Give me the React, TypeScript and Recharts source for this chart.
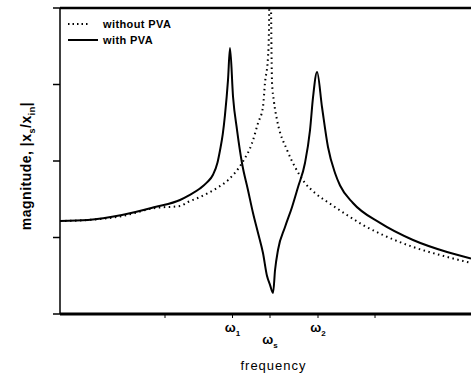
import React from "react";
import { LineChart, Line, XAxis, YAxis, ReferenceLine, Legend } from "recharts";

// frequency (arbitrary units) and |x_s/x_in|
const freqWithout = [0, 0.267, 0.59, 0.905, 1.143, 1.219, 1.333, 1.495, 1.6, 1.733, 1.829, 1.886, 1.933, 1.952, 1.981, 1.99, 2.0, 2.019, 2.038, 2.067, 2.162, 2.238, 2.333, 2.429, 2.59, 2.733, 2.886, 3.076, 3.362, 3.619, 3.876, 3.914];
const magWithout = [1.216, 1.229, 1.28, 1.386, 1.412, 1.464, 1.529, 1.647, 1.75, 1.974, 2.235, 2.497, 2.706, 3.02, 3.36, 3.71, 5.0, 3.03, 2.77, 2.536, 2.144, 1.922, 1.712, 1.582, 1.425, 1.294, 1.163, 1.033, 0.876, 0.771, 0.68, 0.667];

const freqWith = [0, 0.267, 0.59, 0.905, 1.143, 1.219, 1.333, 1.4, 1.457, 1.5, 1.524, 1.55, 1.571, 1.6, 1.619, 1.648, 1.686, 1.733, 1.79, 1.838, 1.886, 1.933, 1.971, 2.0, 2.029, 2.048, 2.076, 2.143, 2.21, 2.267, 2.333, 2.381, 2.41, 2.448, 2.495, 2.552, 2.619, 2.667, 2.79, 3.048, 3.362, 3.686, 3.914];
const magWith = [1.216, 1.229, 1.294, 1.399, 1.49, 1.545, 1.64, 1.72, 1.82, 1.98, 2.14, 2.35, 2.6, 3.06, 3.477, 2.837, 2.405, 1.974, 1.621, 1.32, 1.059, 0.797, 0.5, 0.38, 0.275, 0.575, 0.837, 1.137, 1.399, 1.66, 1.974, 2.405, 2.837, 3.163, 2.706, 2.183, 1.843, 1.68, 1.451, 1.19, 0.967, 0.81, 0.725];

const xTicks = [1, 1.643, 2, 2.457, 3];
const xTickNames = ["", "ω", "ω", "ω", ""];
const xTickSubs = ["", "1", "s", "2", ""];
const xTickDrop = [0, 14, 26, 14, 0];
const yTicks = [0, 1, 2, 3, 4];

const withoutData = freqWithout.map((f, i) => ({ f, mag: magWithout[i] }));
const withData = freqWith.map((f, i) => ({ f, mag: magWith[i] }));

const font = "'Liberation Sans', Arial, sans-serif";

function FreqTick(props: any) {
    const { x, y, index } = props;
    if (!xTickNames[index]) return <g />;
    return (
        <text x={x} y={y + xTickDrop[index]} textAnchor="middle" fontFamily={font} fontWeight="bold" fontSize={13} fill="#000">
            {xTickNames[index]}
            <tspan fontSize={8} dy={4}>{xTickSubs[index]}</tspan>
        </text>
    );
}

function FreqLabel(props: any) {
    const vb = props.viewBox || { x: 60, y: 314, width: 411, height: 64 };
    return (
        <text x={vb.x + vb.width / 2 + 8} y={vb.y + 56} textAnchor="middle" fontFamily={font} fontSize={13} letterSpacing={1} fill="#000">
            frequency
        </text>
    );
}

function MagLabel() {
    return (
        <text transform="translate(31,166) rotate(-90)" textAnchor="middle" fontFamily={font} fontWeight="bold" fontSize={14} letterSpacing={0.5} fill="#000">
            magnitude, |x<tspan fontSize={9} dy={4}>s</tspan>
            <tspan dy={-4}>/x</tspan>
            <tspan fontSize={9} dy={4}>in</tspan>
            <tspan dy={-4}>|</tspan>
        </text>
    );
}

function LegendBox() {
    const row = { display: "flex", alignItems: "center", height: 16 } as const;
    return (
        <div style={{ fontFamily: font, fontWeight: "bold", fontSize: 11, letterSpacing: 0.4, color: "#000" }}>
            <div style={row}>
                <svg width={35} height={6}>
                    <line x1={0} y1={3} x2={20} y2={3} stroke="#000" strokeWidth={2} strokeDasharray="1.5 3" />
                </svg>
                <span>without PVA</span>
            </div>
            <div style={row}>
                <svg width={35} height={6}>
                    <line x1={0} y1={3} x2={30} y2={3} stroke="#000" strokeWidth={2} />
                </svg>
                <span>with PVA</span>
            </div>
        </div>
    );
}

export default function App() {
    return (
        <div style={{ position: "absolute", left: 0, top: 0, background: "#fff" }}>
            <LineChart width={471} height={378} margin={{ top: 8, right: 0, left: 0, bottom: 0 }}>
                <XAxis
                    type="number"
                    dataKey="f"
                    domain={[0, 3.914]}
                    allowDataOverflow
                    ticks={xTicks}
                    tick={<FreqTick />}
                    tickSize={4}
                    tickMargin={0}
                    height={64}
                    axisLine={{ stroke: "#000", strokeWidth: 3 }}
                    tickLine={{ stroke: "#000", strokeWidth: 1 }}
                    label={<FreqLabel />}
                />
                <YAxis
                    type="number"
                    domain={[0, 4]}
                    allowDataOverflow
                    ticks={yTicks}
                    tick={() => <g />}
                    tickSize={7}
                    width={60}
                    axisLine={{ stroke: "#000", strokeWidth: 1.5 }}
                    tickLine={{ stroke: "#000", strokeWidth: 1.5 }}
                    label={<MagLabel />}
                />
                <ReferenceLine y={4} stroke="#000" strokeWidth={2.5} />
                <Legend
                    layout="vertical"
                    align="center"
                    verticalAlign="middle"
                    content={<LegendBox />}
                    wrapperStyle={{ left: 68, top: 16, width: 120 }}
                />
                <Line
                    data={withoutData}
                    dataKey="mag"
                    type="monotone"
                    stroke="#000"
                    strokeWidth={2}
                    strokeDasharray="1.5 3.5"
                    dot={false}
                    isAnimationActive={false}
                />
                <Line
                    data={withData}
                    dataKey="mag"
                    type="monotone"
                    stroke="#000"
                    strokeWidth={2}
                    dot={false}
                    isAnimationActive={false}
                />
            </LineChart>
        </div>
    );
}
